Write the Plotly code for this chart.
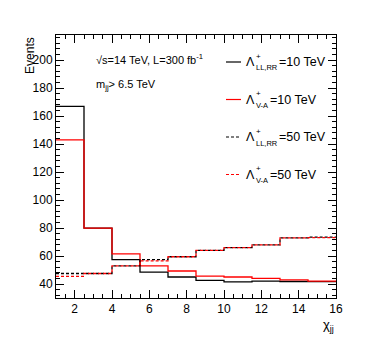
import plotly.graph_objects as go

# bin edges in chi_jj
edges = [1, 2.5, 4, 5.5, 7, 8.5, 10, 11.5, 13, 14.5, 16]

# events per bin
ll_rr_10 = [167, 80, 57.5, 48.5, 45, 42.6, 41.5, 42, 41.8, 41.7]
v_a_10 = [143, 80, 61.5, 53, 49.3, 45.7, 45, 44, 43, 42]
ll_rr_50 = [47.5, 47.5, 53, 57.5, 59.5, 64, 66, 68, 73, 73.5]
v_a_50 = [45.5, 47.5, 53, 56.5, 59.5, 64, 66, 68, 73, 73.2]

series = [
    (ll_rr_10, "black", "solid", "LL,RR", "=10 TeV"),
    (v_a_10, "red", "solid", "V-A", "=10 TeV"),
    (ll_rr_50, "black", "3px,2px", "LL,RR", "=50 TeV"),
    (v_a_50, "red", "3px,2px", "V-A", "=50 TeV"),
]

FONT = "Liberation Sans, Arial, sans-serif"

# plot area is 280 x 263 px; helpers to go from pixel offsets to paper coords
def px(x):
    return (x - 56) / 280

def py(y):
    return (298 - y) / 263

fig = go.Figure()

for vals, color, dash, sub, rest in series:
    fig.add_trace(go.Scatter(
        x=edges,
        y=vals + [vals[-1]],
        mode="lines",
        line={"color": color, "dash": dash, "width": 1.3, "shape": "hv"},
        name=f"Λ+ {sub}{rest}",
        showlegend=False,
    ))

# hand-made ROOT style legend, with the + stacked over the subscript
legend_y = [62, 99.5, 137, 174.5]
sub_width = {"LL,RR": 22, "V-A": 13.5}
for (vals, color, dash, sub, rest), ly in zip(series, legend_y):
    fig.add_shape(type="line", xref="paper", yref="paper",
                  x0=px(226), x1=px(241), y0=py(ly), y1=py(ly),
                  line={"color": color, "dash": dash, "width": 1.2})
    fig.add_annotation(xref="paper", yref="paper", x=px(245), y=py(ly),
                       text="Λ", showarrow=False, xanchor="left",
                       yanchor="middle", borderpad=0,
                       font={"size": 12.5, "color": "black"})
    fig.add_annotation(xref="paper", yref="paper", x=px(254.5), y=py(ly - 0.5),
                       text="+", showarrow=False, xanchor="left",
                       yanchor="bottom", borderpad=0,
                       font={"size": 8, "color": "black"})
    fig.add_annotation(xref="paper", yref="paper", x=px(254.5), y=py(ly + 0.5),
                       text=sub, showarrow=False, xanchor="left",
                       yanchor="top", borderpad=0,
                       font={"size": 7.5, "color": "black"})
    fig.add_annotation(xref="paper", yref="paper",
                       x=px(255.5 + sub_width[sub]), y=py(ly),
                       text=rest, showarrow=False, xanchor="left",
                       yanchor="middle", borderpad=0,
                       font={"size": 12.5, "color": "black"})

fig.add_annotation(xref="paper", yref="paper", x=0.135, y=0.91,
                   text="√s=14 TeV, L=300 fb<sup>-1</sup>", showarrow=False,
                   xanchor="left", yanchor="middle", font={"size": 11})
fig.add_annotation(xref="paper", yref="paper", x=0.135, y=0.81,
                   text="m<sub>jj</sub>> 6.5 TeV", showarrow=False,
                   xanchor="left", yanchor="middle", font={"size": 11})
fig.add_annotation(xref="paper", yref="paper", x=-0.095, y=1.0,
                   text="Events", showarrow=False, textangle=-90,
                   xanchor="center", yanchor="top", font={"size": 12})
fig.add_annotation(xref="paper", yref="paper", x=1.0, y=-0.065,
                   text="χ<sub>jj</sub>", showarrow=False,
                   xanchor="right", yanchor="top", font={"size": 13})

axis_common = dict(
    showgrid=False, zeroline=False, showline=True, linecolor="black",
    linewidth=1, mirror="ticks", ticks="inside", tickcolor="black",
    ticklen=8, tickfont={"size": 12, "color": "black"},
)

fig.update_xaxes(range=[1, 16], dtick=2, tick0=0,
                 minor={"ticks": "inside", "dtick": 0.5, "ticklen": 4,
                        "tickcolor": "black"},
                 **axis_common)
fig.update_yaxes(range=[30, 218], dtick=20, tick0=0,
                 minor={"ticks": "inside", "dtick": 4, "ticklen": 4,
                        "tickcolor": "black"},
                 **axis_common)

# page body has an 8px margin, so the div is shifted by 8px
fig.update_layout(
    width=360,
    height=337,
    margin={"l": 48, "r": 32, "t": 27, "b": 47},
    plot_bgcolor="white",
    paper_bgcolor="white",
    font={"family": FONT, "color": "black"},
)

fig.write_html("out.html")
